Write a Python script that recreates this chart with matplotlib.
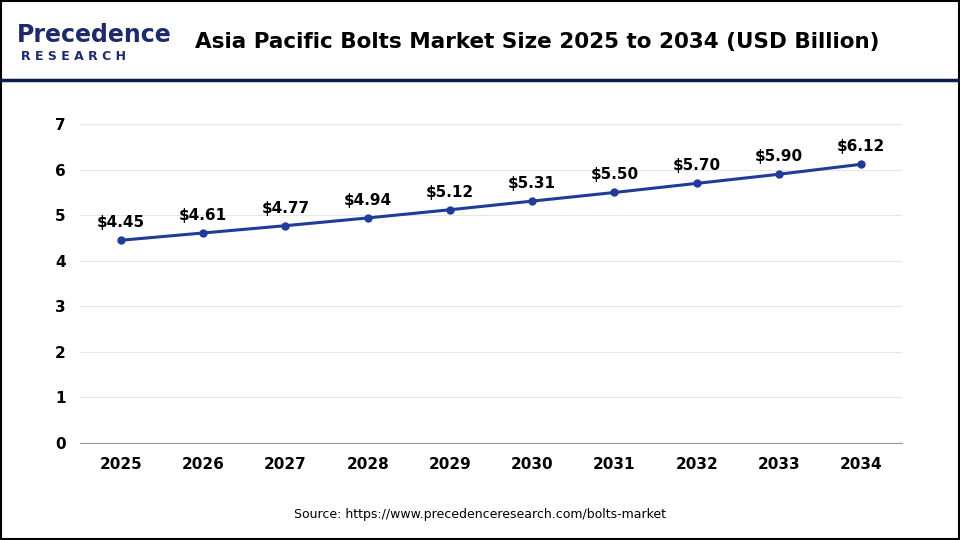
import matplotlib
matplotlib.use("Agg")
import matplotlib.pyplot as plt
from matplotlib.lines import Line2D
from matplotlib.patches import Rectangle

years = ["2025","2026","2027","2028","2029","2030","2031","2032","2033","2034"]
values = [4.45,4.61,4.77,4.94,5.12,5.31,5.50,5.70,5.90,6.12]
yticks = [0,1,2,3,4,5,6,7]

fig = plt.figure(figsize=(9.6,5.4), dpi=100)
fig.patches.append(Rectangle((0.001,0.001),0.998,0.998,transform=fig.transFigure,fill=False,ec="black",lw=1.5))
fig.lines.append(Line2D([0,1],[0.851,0.851],transform=fig.transFigure,color="#0d1b4a",lw=2.5))
fig.text(0.56,0.922,"Asia Pacific Bolts Market Size 2025 to 2034 (USD Billion)",ha="center",va="center",fontsize=15.5,fontweight="bold")
fig.text(0.018,0.935,"Precedence",fontsize=17,color="#1f2a6b",va="center",fontweight="bold")
fig.text(0.022,0.895,"R E S E A R C H",fontsize=9,color="#1f2a6b",va="center",fontweight="bold")
fig.text(0.5,0.04,"Source: https://www.precedenceresearch.com/bolts-market",ha="center",fontsize=9)

ax = fig.add_axes([0.083,0.18,0.857,0.59])
x = range(len(years))
ax.plot(x, values, color="#1f3c99", lw=2.2, marker="o", ms=5)
for i,v in zip(x,values):
    ax.text(i, v+0.22, f"${v:.2f}", ha="center", va="bottom", fontsize=11, fontweight="bold")
ax.set_xlim(-0.5,9.5)
ax.set_ylim(0,7)
ax.set_yticks(yticks)
ax.set_xticks(list(x))
ax.set_xticklabels(years)
for t in ax.get_xticklabels()+ax.get_yticklabels():
    t.set_fontweight("bold"); t.set_fontsize(11)
ax.grid(axis="y", color="#e6e6e6", lw=0.8)
ax.set_axisbelow(True)
for s in ["top","right","left"]:
    ax.spines[s].set_visible(False)
ax.spines["bottom"].set_color("#999999")
ax.tick_params(length=0, pad=10)
fig.savefig("out.png", dpi=100)
